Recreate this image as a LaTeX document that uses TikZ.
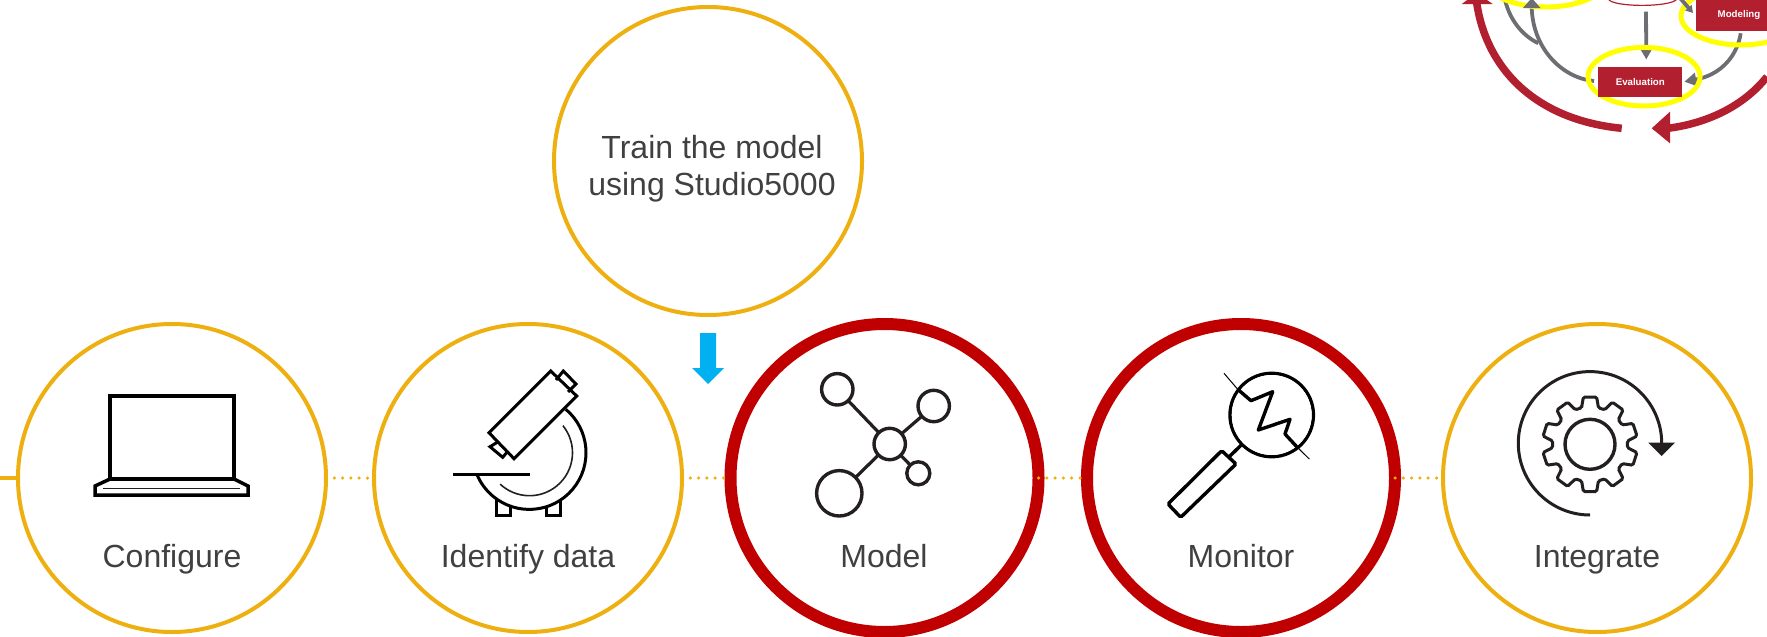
\documentclass[tikz,border=0pt]{standalone}
\usepackage{fontspec}
\setmainfont{Liberation Sans}
\usetikzlibrary{arrows.meta,shapes.geometric,calc}
\definecolor{ringgold}{HTML}{EEAF10}
\definecolor{ringred}{HTML}{C00000}
\definecolor{labelgrey}{HTML}{404040}
\definecolor{arrowblue}{HTML}{00B0F0}
\definecolor{iconink}{HTML}{231F20}
\definecolor{insetred}{HTML}{B2202F}
\definecolor{insetgrey}{HTML}{6D6E71}
\definecolor{insetyellow}{HTML}{FFFF00}
\tikzset{
  goldring/.style={circle,draw=ringgold,line width=4pt,minimum size=308pt,inner sep=0pt,outer sep=0pt},
  redring/.style={circle,draw=ringred,line width=12pt,minimum size=308pt,inner sep=0pt,outer sep=0pt},
  steplabel/.style={text=labelgrey,font=\fontsize{32}{37}\selectfont,anchor=base,inner sep=0pt,align=center},
  dotlink/.style={ringgold,line width=3.5pt,line cap=round,dash pattern=on 0pt off 8.3pt},
  ink/.style={draw=black,line width=3.5pt,line join=miter},
  hub/.style={circle,draw=iconink,line width=3.4pt,inner sep=0pt,outer sep=0pt},
  insetbox/.style={fill=insetred,text=white,font=\bfseries\fontsize{9.7}{11}\selectfont,inner sep=0pt,anchor=center},
  insetring/.style={draw=insetyellow,line width=5pt},
  insetarc/.style={draw=insetred,line width=7.5pt},
  greyflow/.style={draw=insetgrey,line width=3.8pt},
}
\begin{document}
\begin{tikzpicture}[x=1pt,y=1pt,yscale=-1]
\useasboundingbox (0,0) rectangle (1767,637);

% rings
\node[goldring] (configure) at (172,478) {};
\node[goldring] (identify) at (528,478) {};
\node[goldring] (train) at (708,161) {};
\node[redring] (model) at (884.5,478) {};
\node[redring] (monitor) at (1241,478) {};
\node[goldring] (integrate) at (1597,478) {};

% connectors
\coordinate (leftend) at (0,478);
\draw[ringgold,line width=4pt] (leftend) -- (configure.west);
\draw[dotlink] (configure.east) -- (identify.west);
\draw[dotlink] (identify.east) -- (model.west);
\draw[dotlink] (model.east) -- (monitor.west);
\draw[dotlink] (monitor.east) -- (integrate.west);

% labels
\node[steplabel] (trainA) at (712,158) {Train the model};
\node[steplabel] (trainB) at (712,195) {using Studio5000};
\node[steplabel] (l1) at (172,567) {Configure};
\node[steplabel] (l2) at (528,567) {Identify data};
\node[steplabel] (l3) at (884,567) {Model};
\node[steplabel] (l4) at (1241,567) {Monitor};
\node[steplabel] (l5) at (1597,567) {Integrate};

% blue arrow
\fill[arrowblue] (700,333) -- (716,333) -- (716,368) -- (724,368) -- (708,384) -- (692,368) -- (700,368) -- cycle;

% laptop
\draw[ink] (110,479) rectangle (234,396);
\draw[ink] (110,479) -- (95,486) -- (95,495) -- (248,495) -- (248,486) -- (234,479) -- cycle;
\draw[iconink,line width=1pt] (103,488.5) -- (240,488.5);

% microscope
\draw[ink,line width=3pt] (550.7,371) -- (576.7,396) -- (514,458.7) -- (489,432.7) -- cycle;
\draw[ink,line width=3pt] (556,380) -- (563.3,371) -- (576,384) -- (568,392);
\draw[ink,line width=3pt] (498.3,441.7) -- (490,446.7) -- (502.7,457.3) -- (508.3,450.7);
\draw[ink,line width=3pt] (453.3,474.3) -- (530,474.3);
\draw[ink,line width=3pt] (529.3,452.7) ++(-50:56.7) arc[start angle=-50,end angle=158,radius=56.7];
\draw[iconink,line width=1.6pt] (529.5,452.7) ++(-39:43) arc[start angle=-39,end angle=133,radius=43];
\draw[ink,line width=3pt] (496.7,500) -- (496.7,515.7) -- (510,515.7) -- (510,505.7);
\draw[ink,line width=3pt] (546.7,506.7) -- (546.7,515.7) -- (560,515.7) -- (560,500);

% network icon
\node[hub,minimum size=31.4pt] (nc) at (889.7,444) {};
\node[hub,minimum size=31.4pt] (ntl) at (837.3,389.3) {};
\node[hub,minimum size=31.4pt] (ntr) at (933.7,406) {};
\node[hub,minimum size=23pt] (nbr) at (918.3,473.3) {};
\node[hub,minimum size=45.4pt] (nbl) at (839.3,493.3) {};
\draw[draw=iconink,line width=3.2pt] (ntl) -- (nc);
\draw[draw=iconink,line width=3.2pt] (ntr) -- (nc);
\draw[draw=iconink,line width=3.2pt] (nbr) -- (nc);
\draw[draw=iconink,line width=3.2pt] (nbl) -- (nc);

% magnifier icon
\node[hub,minimum size=83.4pt,draw=black] (lens) at (1271.7,415) {};
\draw[black,line width=3.4pt,rounded corners=1.5pt] (1221.7,450.7) -- (1236,464) -- (1180.7,517.3) -- (1168,504) -- cycle;
\coordinate (neck) at (1229,457);
\draw[black,line width=3.4pt] (lens) -- (neck);
\fill[white] (1271.7,415) circle[radius=40];
\draw[black,line width=1pt] (1224,373.3) -- (1237.7,389.3);
\draw[black,line width=3.4pt,line join=round] (1237.7,389.3) -- (1251,400.7) -- (1272.7,391.7) -- (1258.3,430) -- (1290,419.3) -- (1285,434) -- (1296.7,446.7);
\draw[black,line width=1pt] (1296.7,446.7) -- (1309.3,459);

% gear icon
\node[hub,minimum size=50pt] (hole) at (1590,444.3) {};
\draw[draw=iconink,line width=3pt,rounded corners=1.5pt] ([shift={(1590,444.3)}]-103:37.5)
  \foreach \a in {-90,-54,-18,18,54,90,126,162,198,234} {
    -- ([shift={(1590,444.3)}]\a-13:37.5)
    -- ([shift={(1590,444.3)}]\a-8:47.7)
    -- ([shift={(1590,444.3)}]\a+8:47.7)
    -- ([shift={(1590,444.3)}]\a+13:37.5)
  } -- cycle;
\draw[draw=iconink,line width=3pt] (1590,443.3) ++(90:71.7) arc[start angle=90,end angle=360,radius=71.7];
\fill[iconink] (1648.3,442.7) -- (1675,442.7) -- (1661.7,456) -- cycle;

% inset: process diagram, cut off by the page corner
\coordinate (dataTop) at (1646,11.7);
\coordinate (evalIn) at (1646.3,59.5);
\coordinate (modelOut) at (1740.7,33.3);
\coordinate (evalRight) at (1684.3,81.7);
\coordinate (evalLeft) at (1594,81);
\coordinate (upTip) at (1531.7,-2);
\coordinate (joinPt) at (1538.3,43.3);
\coordinate (branchTop) at (1505,0);
\coordinate (toModelA) at (1680,-2);
\coordinate (toModelB) at (1693,13);

\draw[insetarc] (1621.7,128.3) .. controls (1536.7,120) and (1486.7,70) .. (1476.7,3);
\fill[insetred] (1461.7,4) -- (1492.7,4) -- (1477,-7) -- cycle;
\draw[insetarc] (1767,76.7) .. controls (1743,106.7) and (1706.7,123.3) .. (1668,128.3);
\fill[insetred] (1651.7,128.3) -- (1670,111.7) -- (1670,143.3) -- cycle;

\draw[greyflow,-{Triangle[length=9.5pt,width=10pt]}] (dataTop) -- (evalIn);
\draw[greyflow,-{Triangle[length=12pt,width=13pt]}] (modelOut) .. controls (1737,57) and (1720,75) .. (evalRight);
\draw[greyflow] (evalLeft) .. controls (1563.3,78.3) and (1533.3,50) .. (1531.7,8.3);
\draw[greyflow] (branchTop) .. controls (1510,20) and (1521.7,35) .. (joinPt);

\draw[insetring] (1546,-22) ellipse[x radius=62,y radius=29];
\draw[insetring] (1644,76.7) ellipse[x radius=56,y radius=29.3];
\draw[insetring] (1741,16) ellipse[x radius=60,y radius=29];

\draw[greyflow,-{Triangle[length=10pt,width=17pt]}] ($(upTip)+(0,10)$) -- (upTip);
\draw[greyflow,-{Triangle[length=7pt,width=8pt]}] (toModelA) -- (toModelB);
\draw[insetred,line width=1.2pt] (1608.3,-1) .. controls (1612,7.5) and (1672,7.5) .. (1676.7,-1);

\node[insetbox,minimum width=84pt,minimum height=30pt] (evalbox) at (1640.3,81.7) {Evaluation};
\fill[insetred] (1695.7,-1) rectangle (1768,30.7);
\node[text=white,font=\bfseries\fontsize{9.7}{11}\selectfont,inner sep=0pt] (modbox) at (1739,15) {Modeling};
\end{tikzpicture}
\end{document}
